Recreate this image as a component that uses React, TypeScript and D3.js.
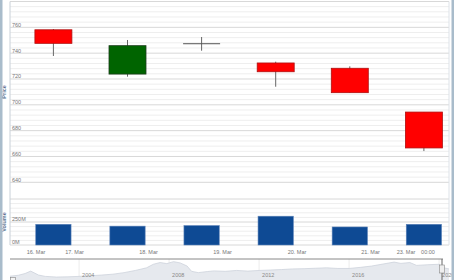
import React from "react";
import * as d3 from "d3";

// ---- Data ----
const candleDates = ["16 Mar", "17 Mar", "18 Mar", "19 Mar", "20 Mar", "23 Mar"];
const opens = [758.1, 723.8, 747.3, 732.4, 728.3, 694.4];
const highs = [758.7, 750.2, 752.5, 733.4, 729.8, 694.4];
const lows = [737.8, 721.8, 741.9, 714.0, 709.4, 664.2];
const closes = [747.6, 745.8, 747.3, 725.6, 709.4, 666.6];
const volumes = [225, 205, 211, 313, 196, 225]; // millions

const xTickLabels = ["16. Mar", "17. Mar", "18. Mar", "19. Mar", "20. Mar", "21. Mar", "23. Mar", "00:00"];
const xTickPos = [-0.235, 0.285, 1.283, 2.282, 3.287, 4.279, 4.758, 5.055];

const priceTicks = [640, 660, 680, 700, 720, 740, 760];
const volumeTicks = [0, 250];

const navYears = [
  2000.93, 2001.3, 2001.6, 2001.85, 2002.2, 2002.5, 2003.0, 2003.5, 2004.0, 2004.5,
  2005.0, 2005.5, 2006.0, 2006.5, 2007.0, 2007.3, 2007.6, 2007.9, 2008.2, 2008.5,
  2008.8, 2009.0, 2009.3, 2009.7, 2010.0, 2010.5, 2011.0, 2011.5, 2012.0, 2012.5,
  2013.0, 2013.5, 2014.0, 2014.5, 2015.0, 2015.5, 2016.0, 2016.5, 2017.0, 2017.5,
  2018.0, 2018.3, 2018.7, 2019.0, 2019.5, 2020.0, 2020.2, 2020.44,
];
const navValues = [
  22, 26, 34, 45, 27, 21, 18, 19, 21, 24,
  27, 31, 38, 48, 60, 76, 84, 79, 88, 82,
  68, 44, 38, 43, 46, 44, 48, 45, 48, 50,
  52, 55, 56, 58, 60, 57, 57, 62, 68, 77,
  86, 80, 84, 71, 74, 76, 60, 55,
];
const navYearTicks = [2004, 2008, 2012, 2016, 2020];

// ---- Layout ----
const W = 454;
const H = 280;
const left = 10;
const right = 449;
const priceTop = 1.5;
const priceBottom = 182.3;
const volTop = 199;
const volBottom = 245;
const navTop = 259;
const navBottom = 281;

const font = "'Liberation Sans', Arial, sans-serif";

export default function App() {
  const x = d3.scaleLinear().domain([0, 5]).range([53.4, 423.9]);
  const yP = d3.scaleLinear().domain([640, 780]).range([priceBottom, priceTop]);
  const yV = d3.scaleLinear().domain([0, 500]).range([volBottom, volTop]);
  const xN = d3.scaleLinear().domain([2000.93, 2020.44]).range([left, right]);
  const yN = d3.scaleLinear().domain([0, 100]).range([navBottom, navTop]);

  const candleW = 37;
  const barW = 35.3;

  const priceMinor = d3.range(640, 781, 4).filter((v) => v % 20 !== 0);
  const priceMajor = d3.range(640, 781, 20);
  const volMinor = d3.range(0, 501, 50).filter((v) => v % 250 !== 0);
  const volMajor = [0, 250, 500];

  const navPts = navYears.map((yr, i) => [yr, navValues[i]] as [number, number]);
  const area = d3
    .area<[number, number]>()
    .x((d) => xN(d[0]))
    .y0(navBottom)
    .y1((d) => yN(d[1]));
  const line = d3
    .line<[number, number]>()
    .x((d) => xN(d[0]))
    .y((d) => yN(d[1]));

  return (
    <svg width={W} height={H} style={{ position: "absolute", left: 0, top: 0, background: "#fff" }}>
      <rect x={0} y={0} width={W} height={H} fill="#fff" />
      {/* price grid */}
      {priceMinor.map((v) => (
        <line key={"pm" + v} x1={left} x2={right} y1={yP(v)} y2={yP(v)} stroke="#eeeeee" strokeWidth={1} />
      ))}
      {priceMajor.map((v) => (
        <line key={"pM" + v} x1={left} x2={right} y1={yP(v)} y2={yP(v)} stroke="#d8d8d8" strokeWidth={1} />
      ))}
      {/* volume grid */}
      {volMinor.map((v) => (
        <line key={"vm" + v} x1={left} x2={right} y1={yV(v)} y2={yV(v)} stroke="#eeeeee" strokeWidth={1} />
      ))}
      {volMajor.map((v) => (
        <line key={"vM" + v} x1={left} x2={right} y1={yV(v)} y2={yV(v)} stroke="#d8d8d8" strokeWidth={1} />
      ))}
      {/* plot borders */}
      <line x1={left} x2={left} y1={priceTop} y2={volBottom} stroke="#c8d0d8" strokeWidth={1} />
      <line x1={right} x2={right} y1={priceTop} y2={volBottom} stroke="#dde2e8" strokeWidth={1} />

      {/* price labels */}
      {priceTicks.map((v) => (
        <text key={"pl" + v} x={12} y={yP(v) - 0.6} fontSize={5.5} fill="#777" fontFamily={font}>
          {v}
        </text>
      ))}
      {volumeTicks.map((v) => (
        <text key={"vl" + v} x={12} y={yV(v) - 1} fontSize={5.5} fill="#777" fontFamily={font}>
          {v + "M"}
        </text>
      ))}

      {/* axis titles */}
      <text
        transform={`translate(6,${(priceTop + priceBottom) / 2}) rotate(-90)`}
        textAnchor="middle"
        fontSize={5.5}
        fontWeight="bold"
        fill="#5a7390"
        fontFamily={font}
      >
        Price
      </text>
      <text
        transform={`translate(6,${(volTop + volBottom) / 2}) rotate(-90)`}
        textAnchor="middle"
        fontSize={5.5}
        fontWeight="bold"
        fill="#5a7390"
        fontFamily={font}
      >
        Volume
      </text>

      {/* candles */}
      {candleDates.map((d, i) => {
        const cx = x(i);
        const o = opens[i];
        const c = closes[i];
        const up = c > o;
        const doji = Math.abs(c - o) < 0.01;
        const top = yP(Math.max(o, c));
        const bot = yP(Math.min(o, c));
        const fill = up ? "#006400" : "#ff0000";
        const stroke = up ? "#1d3d1d" : "#b01010";
        return (
          <g key={"c" + d}>
            <line x1={cx} x2={cx} y1={yP(highs[i])} y2={yP(lows[i])} stroke="#666" strokeWidth={1} />
            {doji ? (
              <line x1={cx - candleW / 2} x2={cx + candleW / 2} y1={top} y2={top} stroke="#555" strokeWidth={1} />
            ) : (
              <rect
                x={cx - candleW / 2}
                y={top}
                width={candleW}
                height={bot - top}
                fill={fill}
                stroke={stroke}
                strokeWidth={0.8}
              />
            )}
          </g>
        );
      })}

      {/* volume bars */}
      {volumes.map((v, i) => (
        <rect
          key={"v" + i}
          x={x(i) - barW / 2}
          y={yV(v)}
          width={barW}
          height={yV(0) - yV(v)}
          fill="#0e4a94"
          stroke="#5c82b8"
          strokeWidth={0.6}
        />
      ))}

      {/* x axis labels */}
      {xTickLabels.map((t, i) => (
        <text
          key={"xt" + i}
          x={x(xTickPos[i])}
          y={254.3}
          textAnchor="middle"
          fontSize={5.5}
          fill="#777"
          fontFamily={font}
        >
          {t}
        </text>
      ))}

      {/* navigator */}
      {navYearTicks.map((yr) => (
        <line key={"ng" + yr} x1={xN(yr)} x2={xN(yr)} y1={navTop} y2={navBottom} stroke="#ececec" strokeWidth={1} />
      ))}
      <path d={area(navPts) || ""} fill="#e6e9ee" />
      <path d={line(navPts) || ""} fill="none" stroke="#c8cfd9" strokeWidth={0.7} />
      <line x1={left} x2={443} y1={navTop} y2={navTop} stroke="#888" strokeWidth={1} />
      {navYearTicks.map((yr) => (
        <text key={"nl" + yr} x={xN(yr) + 3} y={276.5} fontSize={5.5} fill="#888" fontFamily={font}>
          {yr}
        </text>
      ))}
      <line x1={442} x2={442} y1={navTop} y2={navBottom} stroke="#666" strokeWidth={1} />
      <rect x={439.5} y={265} width={5} height={8} fill="#eeeeee" stroke="#888" strokeWidth={0.6} />
      <rect x={10.5} y={277.5} width={5} height={4} fill="#f4f4f4" stroke="#888" strokeWidth={0.6} />

      {/* outer frame strips */}
      <rect x={0} y={0} width={2.5} height={H} fill="#a9bccb" />
      <rect x={451.5} y={0} width={2.5} height={H} fill="#a9bccb" />
    </svg>
  );
}
